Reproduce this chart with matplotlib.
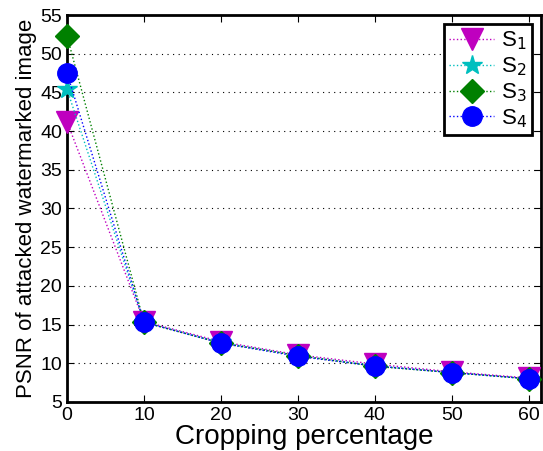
import matplotlib.pyplot as plt

plt.rcParams['font.family'] = ['Liberation Sans', 'DejaVu Sans']

crop = [0, 10, 20, 30, 40, 50, 60]
s1 = [41.2, 15.4, 12.8, 11.1, 9.9, 8.9, 8.1]
s2 = [45.4, 15.3, 12.7, 11.0, 9.7, 8.8, 8.0]
s3 = [52.3, 15.3, 12.6, 11.0, 9.6, 8.8, 8.0]
s4 = [47.5, 15.3, 12.6, 10.9, 9.65, 8.8, 8.0]

fig = plt.figure(figsize=(5.43, 4.51), dpi=100)
ax = fig.add_axes([67/543, 1 - 402/451, 474/543, 387/451])

style = dict(linestyle=':', linewidth=1, clip_on=False, zorder=3)
ax.plot(crop, s1, color='m', mec='m', marker='v', ms=16, label='S$_1$', **style)
ax.plot(crop, s2, color='c', mec='c', marker='*', ms=15, label='S$_2$', **style)
ax.plot(crop, s3, color='g', mec='g', marker='D', ms=12, label='S$_3$', **style)
ax.plot(crop, s4, color='b', mec='b', marker='o', ms=14, label='S$_4$', **style)

ax.set_xlim(0, 61.6)
ax.set_ylim(5, 55)
ax.set_xticks(crop)
ax.set_yticks(range(5, 56, 5))
ax.yaxis.grid(True, linestyle=(0, (1, 4)), color='k', linewidth=0.8)
ax.tick_params(direction='in', top=True, right=True, labelsize=14, length=5)
for s in ax.spines.values():
    s.set_linewidth(2)

ax.set_xlabel('Cropping percentage', fontsize=20, labelpad=0)
ax.set_ylabel('PSNR of attacked watermarked image', fontsize=16, labelpad=2)

leg = ax.legend(loc='upper right', fontsize=16, fancybox=False, edgecolor='k',
                borderaxespad=0.4, handlelength=2.0, labelspacing=0.15,
                borderpad=0.25, handletextpad=0.3, framealpha=1)
leg.get_frame().set_linewidth(2)

fig.savefig('out.png', dpi=100)
